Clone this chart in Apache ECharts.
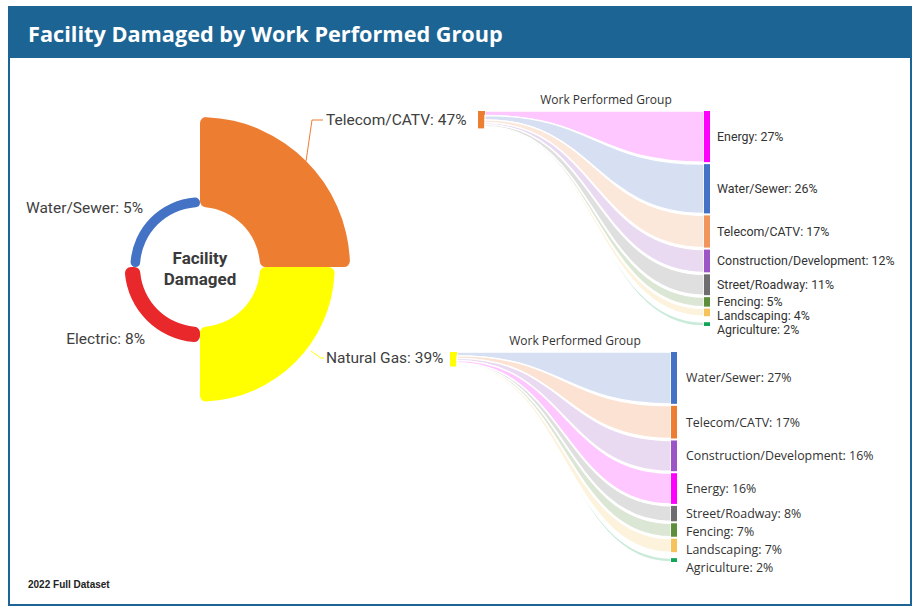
<!DOCTYPE html>
<html><head><meta charset="utf-8">
<script src="https://cdn.jsdelivr.net/npm/echarts@6/dist/echarts.min.js"></script>
<style>html,body{margin:0;padding:0;background:#fff}#c{width:921px;height:616px}</style>
</head><body><div id="c"></div>
<script>
// ---- data ----
const pieNames = ['Telecom/CATV', 'Natural Gas', 'Electric', 'Water/Sewer'];
const pieValues = [47, 39, 8, 5];
const pieColors = ['#ED7D31', '#FFFF00', '#E8282B', '#4472C4'];

const topTargets = ['Energy', 'Water/Sewer', 'Telecom/CATV', 'Construction/Development', 'Street/Roadway', 'Fencing', 'Landscaping', 'Agriculture'];
const topValues = [27, 26, 17, 12, 11, 5, 4, 2];
const topColors = ['#FF00FF', '#4472C4', '#F0955C', '#9B55C6', '#706D70', '#5E8D3B', '#F6C25B', '#10A557'];

const botTargets = ['Water/Sewer', 'Telecom/CATV', 'Construction/Development', 'Energy', 'Street/Roadway', 'Fencing', 'Landscaping', 'Agriculture'];
const botValues = [27, 17, 16, 16, 8, 7, 7, 2];
const botColors = ['#4472C4', '#ED7D31', '#9B55C6', '#FF00FF', '#706D70', '#5E8D3B', '#F6C25B', '#10A557'];

// ---- styles ----
const SRC_PX = 0.37; // px of source node per pie percent
const labelPos = [
  {x: 326, y: 120, align: 'left'},
  {x: 326, y: 358, align: 'left'},
  {x: 145, y: 339, align: 'right'},
  {x: 143, y: 208, align: 'right'}
];

const chart = echarts.init(document.getElementById('c'), null, {renderer: 'svg'});

function sankeySeries(idx, targets, values, colors, srcValue, srcColor, fontFamily, labelStep, labelDx) {
  const total = values.reduce((a, b) => a + b, 0);
  const starts = [];
  let acc = 0;
  values.forEach(v => { starts.push(acc); acc += v; });
  const n = values.length;
  return {
    type: 'custom',
    coordinateSystem: 'cartesian2d',
    xAxisIndex: idx, yAxisIndex: idx,
    silent: true,
    data: values.map((v, i) => ({name: targets[i], value: [1, v, starts[i]]})),
    renderItem(params, api) {
      const i = params.dataIndex;
      const GAP = 2, LAST_EXTRA = 4, NODE_W = 6, SRC_W = 7;
      const nodeBox = j => {
        const a = api.coord([1, starts[j]]);
        const b = api.coord([1, starts[j] + values[j]]);
        const off = j * GAP + (j === n - 1 ? LAST_EXTRA : 0);
        return [a[0] - NODE_W, a[1] + off, a[0], b[1] + off];
      };
      const [xt0, yt0, xt1, yt1] = nodeBox(i);
      const origin = api.coord([0, 0]);
      const srcH = srcValue * SRC_PX;
      const xs = origin[0] + SRC_W;
      const ys0 = origin[1] + starts[i] / total * srcH;
      const ys1 = origin[1] + (starts[i] + values[i]) / total * srcH;
      const xm = (xs + xt0) / 2;
      let ly = -Infinity;
      for (let j = 0; j <= i; j++) {
        const bx = nodeBox(j);
        ly = Math.max((bx[1] + bx[3]) / 2, ly + labelStep);
      }
      const pathData = 'M' + xs + ',' + ys0 + ' C' + xm + ',' + ys0 + ' ' + xm + ',' + yt0 + ' ' + xt0 + ',' + yt0 +
        ' L' + xt0 + ',' + yt1 + ' C' + xm + ',' + yt1 + ' ' + xm + ',' + ys1 + ' ' + xs + ',' + ys1 + ' Z';
      const children = [
        {type: 'path', shape: {pathData: pathData},
          style: {fill: echarts.color.modifyAlpha(colors[i], 0.22), stroke: '#ffffff', lineWidth: 1.3}},
        {type: 'rect', shape: {x: xt0, y: yt0, width: NODE_W, height: yt1 - yt0}, style: {fill: colors[i]}},
        {type: 'text', style: {text: targets[i] + ': ' + values[i] + '%', x: xt1 + labelDx, y: ly,
          align: 'left', verticalAlign: 'middle', fill: '#333333', fontSize: 12.4, fontFamily: fontFamily}}
      ];
      if (i === 0) {
        children.push({type: 'rect', shape: {x: origin[0], y: origin[1], width: SRC_W, height: srcH}, style: {fill: srcColor}});
      }
      return {type: 'group', children: children};
    }
  };
}

const topTotal = topValues.reduce((a, b) => a + b, 0);
const botTotal = botValues.reduce((a, b) => a + b, 0);

chart.setOption({
  animation: false,
  graphic: [
    {type: 'rect', z: -10, shape: {x: 9, y: 7, width: 902, height: 598}, style: {fill: '#ffffff', stroke: '#1c6494', lineWidth: 2}},
    {type: 'rect', z: -9, shape: {x: 8, y: 6, width: 904, height: 52}, style: {fill: '#1c6494'}},
    {type: 'text', z: 5, style: {text: 'Facility Damaged by Work Performed Group', x: 28, y: 33, verticalAlign: 'middle',
      fill: '#ffffff', fontSize: 21.7, fontWeight: 'bold', fontFamily: 'Open Sans'}},
    {type: 'text', z: 5, style: {text: '2022 Full Dataset', x: 28, y: 584, verticalAlign: 'middle',
      fill: '#222222', fontSize: 10, fontWeight: 'bold', fontFamily: 'Liberation Sans'}},
    {type: 'text', z: 5, style: {text: 'Facility', x: 200, y: 258, align: 'center', verticalAlign: 'middle',
      fill: '#3a3a3a', fontSize: 17, fontWeight: 'bold', fontFamily: 'Roboto'}},
    {type: 'text', z: 5, style: {text: 'Damaged', x: 200, y: 279, align: 'center', verticalAlign: 'middle',
      fill: '#3a3a3a', fontSize: 17, fontWeight: 'bold', fontFamily: 'Roboto'}},
    {type: 'text', z: 5, style: {text: 'Work Performed Group', x: 606, y: 99, align: 'center', verticalAlign: 'middle',
      fill: '#333333', fontSize: 12, fontFamily: 'Open Sans'}},
    {type: 'text', z: 5, style: {text: 'Work Performed Group', x: 575, y: 340, align: 'center', verticalAlign: 'middle',
      fill: '#333333', fontSize: 12, fontFamily: 'Open Sans'}}
  ],
  grid: [
    {left: 478, top: 111, width: 232, height: 197},
    {left: 450, top: 352, width: 227, height: 192}
  ],
  xAxis: [
    {type: 'value', gridIndex: 0, min: 0, max: 1, show: false},
    {type: 'value', gridIndex: 1, min: 0, max: 1, show: false}
  ],
  yAxis: [
    {type: 'value', gridIndex: 0, min: 0, max: topTotal, inverse: true, show: false},
    {type: 'value', gridIndex: 1, min: 0, max: botTotal, inverse: true, show: false}
  ],
  series: [
    {
      type: 'pie',
      silent: true,
      center: [200, 267],
      radius: [60, 150],
      roseType: 'area',
      startAngle: 90,
      clockwise: true,
      avoidLabelOverlap: false,
      itemStyle: {borderRadius: 6},
      label: {show: true, position: 'outside', formatter: '{b}: {c}%', fontFamily: 'Roboto', fontSize: 15.5, color: '#404040'},
      labelLine: {show: true, lineStyle: {width: 1}},
      labelLayout: function (params) {
        const p = labelPos[params.dataIndex];
        const out = {x: p.x, y: p.y, align: p.align, verticalAlign: 'middle'};
        if (params.dataIndex === 0 && params.labelLinePoints) {
          out.labelLinePoints = [params.labelLinePoints[0], [312, 120], [323, 120]];
        } else if (params.dataIndex === 1) {
          out.labelLinePoints = [[311, 351], [321, 358], [324, 358]];
        }
        return out;
      },
      data: pieNames.map((n, i) => ({
        name: n, value: pieValues[i], itemStyle: {color: pieColors[i]},
        labelLine: {show: i < 2}
      }))
    },
    sankeySeries(0, topTargets, topValues, topColors, pieValues[0], pieColors[0], 'Roboto', 14, 7),
    sankeySeries(1, botTargets, botValues, botColors, pieValues[1], pieColors[1], 'Open Sans', 18, 9)
  ]
});
</script></body></html>
